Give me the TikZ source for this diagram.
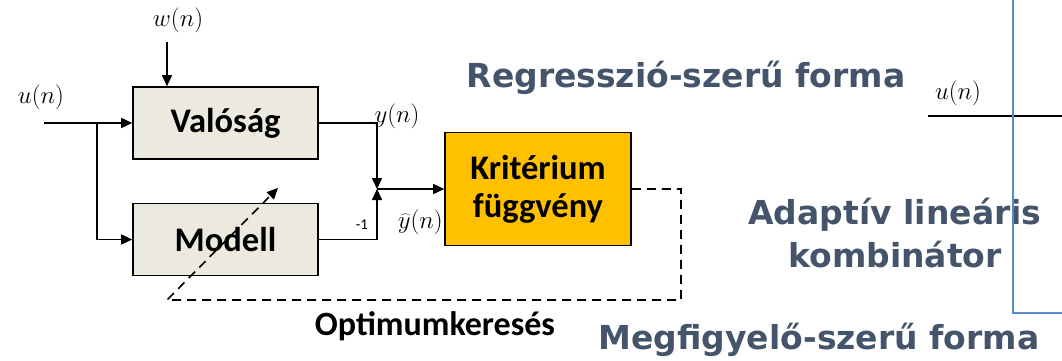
\documentclass[tikz,border=0pt]{standalone}
\usepackage[no-math]{fontspec}
\newfontfamily\boxfont{Carlito}
\newfontfamily\headfont{DejaVu Sans}
\usepackage{tikz}
\usetikzlibrary{arrows.meta,positioning,calc}
\definecolor{slate}{HTML}{44546A}
\definecolor{amber}{HTML}{FFC000}
\definecolor{paper}{HTML}{ECEADF}
\definecolor{frameblue}{HTML}{5B8AC8}

\begin{document}
\begin{tikzpicture}[x=1pt,y=-1pt,
 blk/.style={draw,line width=1.6pt,fill=paper,minimum width=185pt,minimum height=72pt,
  font=\boxfont\bfseries\fontsize{34.5}{38}\selectfont},
 ar/.style={-{Triangle[length=11pt,width=10pt]},line width=1.6pt},
 dsh/.style={dashed,dash pattern=on 9pt off 6pt,line width=1.6pt},
 hd/.style={text=slate,align=center,font=\headfont\bfseries\fontsize{33}{43}\selectfont},
 sig/.style={inner sep=0pt,font=\fontsize{25.5}{28}\selectfont}]
\useasboundingbox (0,0) rectangle (1062,361);
% plant and model
\node[blk] (val) at (225.5,123) {Valóság};
\node[blk] (modell) at (225.5,239.5) {Modell};
\node[blk,fill=amber,minimum width=186pt,minimum height=113pt,align=center] (krit) at (538,189)
 {Kritérium\\függvény};
\coordinate (in) at (44,123);
\coordinate (br) at (97,123);
\coordinate (sum) at (377,189);
\coordinate (wtop) at (167,42);
\node[sig] (u) at (41,97) {$u(n)$};
\node[sig] (w) at (178,20) {$w(n)$};
\node[sig] (y) at (397,116) {$y(n)$};
\node[sig,anchor=east] (yh) at (443,222) {$\widehat{y}(n)$};
\node[inner sep=0pt,font=\boxfont\fontsize{15}{16}\selectfont] (m1) at (362,225) {-1};
% signal paths
\draw[ar] (wtop) -- (wtop |- val.north);
\draw[ar] (in) -- (val);
\draw[ar] (br) |- (modell);
\draw[ar] (val) -| (sum);
\draw[ar] (modell) -| (sum);
\draw[ar] (sum) -- (krit.west |- sum);
% optimisation loop
\coordinate (fb) at (681,300);
\coordinate (tail) at (167,300);
\coordinate (tune) at (278,188);
\draw[dsh,-{Triangle[length=11pt,width=10pt]}] (krit.east) -| (fb) -- (tail) -- (tune);
\node[font=\boxfont\bfseries\fontsize{34}{38}\selectfont] (opt) at (435,326) {Optimumkeresés};
% headings
\node[hd] (reg) at (686,78) {Regresszió-szerű forma};
\node[hd] (alk) at (895,233) {Adaptív lineáris\\kombinátor};
\node[hd] (megf) at (819,340) {Megfigyelő-szerű forma};
% combinator input and frame
\node[sig,font=\fontsize{30}{32}\selectfont] (u2) at (958,93) {$u(n)$};
\coordinate (ua) at (928,116);
\coordinate (ub) at (1062,116);
\draw[line width=1.6pt] (ua) -- (ub);
\coordinate (fa) at (1013,0);
\coordinate (fc) at (1062,313);
\draw[frameblue,line width=1.4pt] (fa) |- (fc);
\end{tikzpicture}
\end{document}
